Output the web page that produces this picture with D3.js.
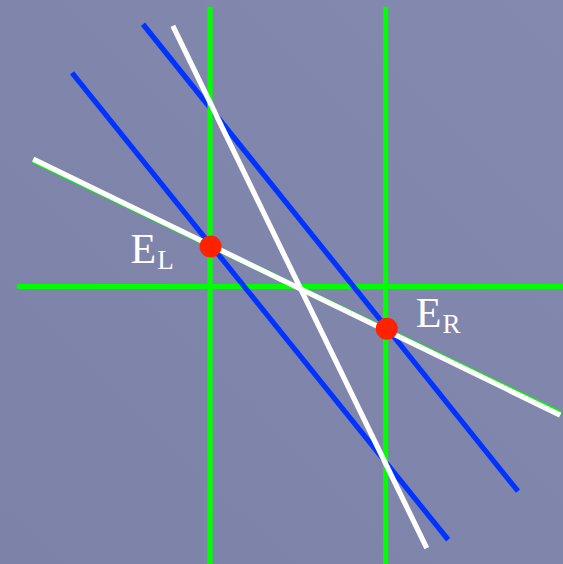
<!DOCTYPE html>
<html>
<head>
<meta charset="utf-8">
<script src="https://cdn.jsdelivr.net/npm/d3@7"></script>
<style>
  html, body { margin: 0; padding: 0; background: #7f85aa; }
  svg { display: block; }
</style>
</head>
<body>
<svg id="chart" width="563" height="564"></svg>
<script>
// ---- data (abstract units: x 0..10 left→right, y 0..10 bottom→top) ----
const greenVerticals = [
  { name: "vL", x: 3.73, y1: 9.88, y2: 0.0 },
  { name: "vR", x: 6.85, y1: 9.88, y2: 0.0 }
];
const greenHorizontal = [
  { name: "h", y: 4.92, x1: 0.30, x2: 10.0 }
];
const blueLines = [
  { name: "b1", p: [[1.28, 8.71], [7.96, 0.43]] },
  { name: "b2", p: [[2.54, 9.57], [9.20, 1.29]] }
];
const whiteShallow = [[0.59, 7.18], [9.95, 2.64]];
const greenShadow  = [[0.59, 7.155], [9.96, 2.665]];
const whiteSteep   = [[3.07, 9.54], [7.58, 0.28]];
const equilibria = [
  { name: "L", x: 3.74, y: 5.63 },
  { name: "R", x: 6.87, y: 4.17 }
];
const labels = [
  { main: "E", sub: "L", at: "L" },
  { main: "E", sub: "R", at: "R" }
];

// ---- scales ----
const W = 563, H = 564;
const x = d3.scaleLinear().domain([0, 10]).range([0, W]);
const y = d3.scaleLinear().domain([0, 10]).range([H, 0]);

const svg = d3.select("#chart");

// background
const defs = svg.append("defs");
const grad = defs.append("linearGradient").attr("id", "bg")
  .attr("x1", "0").attr("y1", "1").attr("x2", "1").attr("y2", "0");
grad.append("stop").attr("offset", "0").attr("stop-color", "#7d83a8");
grad.append("stop").attr("offset", "0.5").attr("stop-color", "#7f85ab");
grad.append("stop").attr("offset", "1").attr("stop-color", "#8489b0");
svg.append("rect").attr("width", W).attr("height", H).attr("fill", "url(#bg)");

const line = d3.line().x(d => x(d[0])).y(d => y(d[1]));
const GREEN = "#00ff00", BLUE = "#0033ff", WHITE = "#ffffff", RED = "#ff2200";
const SW = 5.2;

// horizontal green (under blue)
svg.selectAll(".gh").data(greenHorizontal).join("line")
  .attr("class", "gh")
  .attr("x1", d => x(d.x1)).attr("x2", d => x(d.x2))
  .attr("y1", d => y(d.y)).attr("y2", d => y(d.y))
  .attr("stroke", GREEN).attr("stroke-width", SW);

// blue lines
svg.selectAll(".blue").data(blueLines).join("path")
  .attr("class", "blue")
  .attr("d", d => line(d.p))
  .attr("fill", "none").attr("stroke", BLUE).attr("stroke-width", SW);

// vertical green (over blue)
svg.selectAll(".gv").data(greenVerticals).join("line")
  .attr("class", "gv")
  .attr("x1", d => x(d.x)).attr("x2", d => x(d.x))
  .attr("y1", d => y(d.y1)).attr("y2", d => y(d.y2))
  .attr("stroke", GREEN).attr("stroke-width", SW);

// thin green shadow under the shallow white line
svg.append("path").attr("d", line(greenShadow))
  .attr("fill", "none").attr("stroke", GREEN).attr("stroke-width", SW);

// white lines
svg.selectAll(".white").data([whiteShallow, whiteSteep]).join("path")
  .attr("class", "white")
  .attr("d", d => line(d))
  .attr("fill", "none").attr("stroke", WHITE).attr("stroke-width", SW);

// equilibrium points
svg.selectAll(".eq").data(equilibria).join("circle")
  .attr("class", "eq")
  .attr("cx", d => x(d.x)).attr("cy", d => y(d.y))
  .attr("r", 11).attr("fill", RED);

// labels
const offsets = { L: [-80, 17], R: [29, -2] };
const byName = Object.fromEntries(equilibria.map(e => [e.name, e]));
labels.forEach(l => {
  const p = byName[l.at];
  const t = svg.append("text")
    .attr("x", x(p.x) + offsets[l.at][0])
    .attr("y", y(p.y) + offsets[l.at][1])
    .attr("fill", WHITE)
    .attr("font-family", "'Liberation Serif', 'DejaVu Serif', serif")
    .attr("font-size", 42)
    .attr("font-weight", 300);
  t.append("tspan").text(l.main);
  t.append("tspan").attr("dx", 1).attr("dy", 6).attr("font-size", 27).text(l.sub);
});
</script>
</body>
</html>
